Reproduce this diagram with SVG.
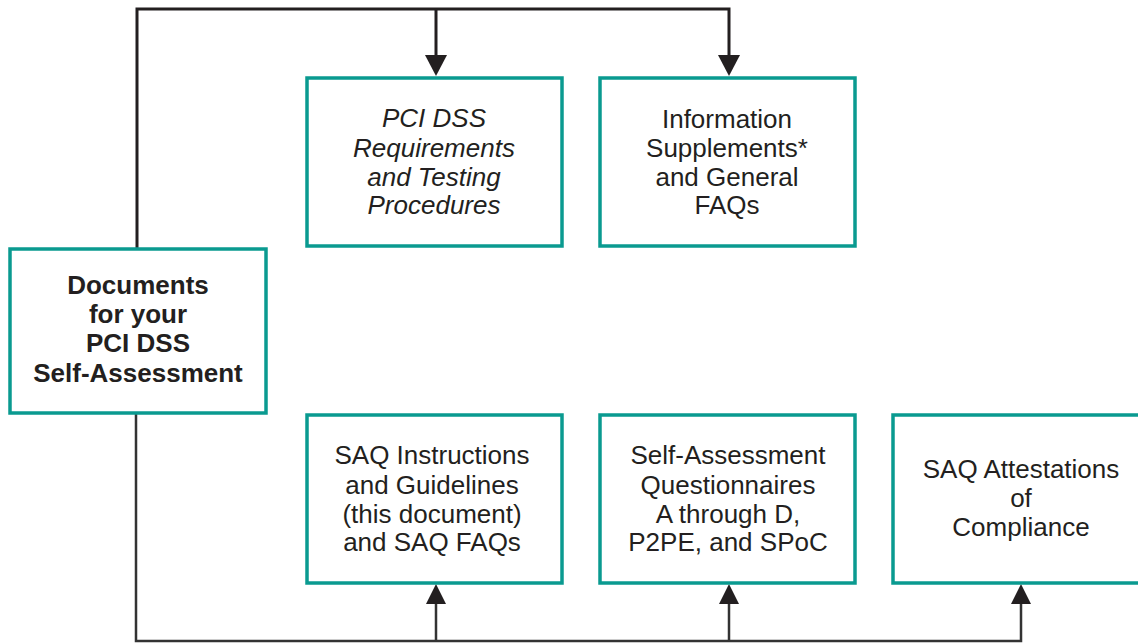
<svg xmlns="http://www.w3.org/2000/svg" width="1138" height="643" viewBox="0 0 1138 643">
<style>
.box{fill:#fff;stroke:#0a9a90;stroke-width:3.5}
.t{font-family:"Liberation Sans",Arial,sans-serif;font-size:26px;fill:#231f20;text-anchor:middle}
.b{font-weight:bold}
.i{font-style:italic}
.ln{fill:none;stroke:#231f20;stroke-width:3}
.ah{fill:#231f20}
</style>
<rect width="1138" height="643" fill="#fff"/>
<g id="connectors">
<polyline class="ln" points="137,249 137,9 729,9 729,58"/>
<line class="ln" x1="436" y1="9" x2="436" y2="58"/>
<polygon class="ah" points="425,55 447,55 436,76"/>
<polygon class="ah" points="718,55 740,55 729,76"/>
<polyline class="ln" points="136,413 136,641 1021,641 1021,600" style="stroke-width:2.5;stroke:#333"/>
<line class="ln" x1="436" y1="641" x2="436" y2="600" style="stroke-width:2.5;stroke:#333"/>
<line class="ln" x1="729" y1="641" x2="729" y2="600" style="stroke-width:2.5;stroke:#333"/>
<polygon class="ah" points="426,604 446,604 436,584"/>
<polygon class="ah" points="719,604 739,604 729,584"/>
<polygon class="ah" points="1011,604 1031,604 1021,584"/>
</g>
<g id="docs">
<rect class="box" x="10" y="249" width="256" height="164"/>
<text class="t b" x="138" y="294">Documents</text>
<text class="t b" x="138" y="323">for your</text>
<text class="t b" x="138" y="352">PCI DSS</text>
<text class="t b" x="138" y="382">Self-Assessment</text>
</g>
<g id="pcidss">
<rect class="box" x="307" y="78" width="255" height="168"/>
<text class="t i" x="434" y="127">PCI DSS</text>
<text class="t i" x="434" y="157">Requirements</text>
<text class="t i" x="434" y="186">and Testing</text>
<text class="t i" x="434" y="214">Procedures</text>
</g>
<g id="infosupp">
<rect class="box" x="600" y="78" width="255" height="168"/>
<text class="t" x="727" y="128">Information</text>
<text class="t" x="727" y="157">Supplements*</text>
<text class="t" x="727" y="186">and General</text>
<text class="t" x="727" y="214">FAQs</text>
</g>
<g id="saqinstr">
<rect class="box" x="307" y="415" width="255" height="168"/>
<text class="t" x="432" y="464">SAQ Instructions</text>
<text class="t" x="432" y="494">and Guidelines</text>
<text class="t" x="432" y="523">(this document)</text>
<text class="t" x="432" y="551">and SAQ FAQs</text>
</g>
<g id="saqs">
<rect class="box" x="600" y="415" width="255" height="168"/>
<text class="t" x="728" y="464">Self-Assessment</text>
<text class="t" x="728" y="494">Questionnaires</text>
<text class="t" x="728" y="523">A through D,</text>
<text class="t" x="728" y="551">P2PE, and SPoC</text>
</g>
<g id="aoc">
<rect class="box" x="893" y="415" width="260" height="168"/>
<text class="t" x="1021" y="478">SAQ Attestations</text>
<text class="t" x="1021" y="507">of</text>
<text class="t" x="1021" y="536">Compliance</text>
</g>
</svg>
